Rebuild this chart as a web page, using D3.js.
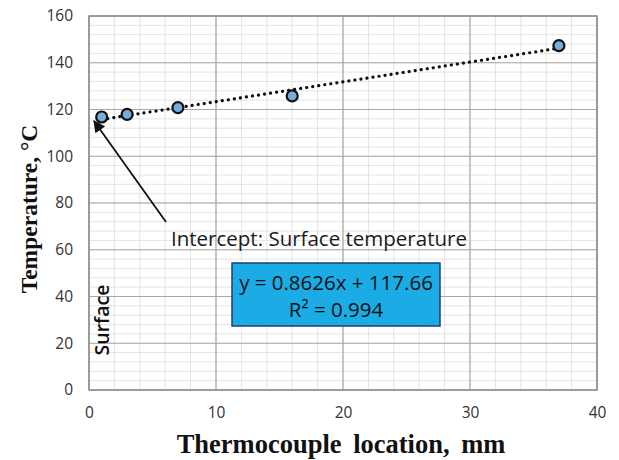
<!DOCTYPE html>
<html><head><meta charset="utf-8">
<script src="https://cdn.jsdelivr.net/npm/d3@7"></script>
<style>body{margin:0;background:#fff}svg{display:block}</style>
</head><body>
<svg id="c" width="619" height="460"></svg>
<script>
const xValues = [1, 3, 7, 16, 37];
const temperatures = [116.8, 117.9, 120.8, 125.8, 147.3];
const xTicks = [0, 10, 20, 30, 40];
const yTicks = [0, 20, 40, 60, 80, 100, 120, 140, 160];
const equationLines = ["y = 0.8626x + 117.66", "R² = 0.994"];
const annotation = "Intercept: Surface temperature";
const surfaceLabel = "Surface";
const xTitle = "Thermocouple location, mm";
const yTitle = "Temperature, °C";

const svg = d3.select("#c");
const L = 89, R = 597, T = 16, B = 390;
const x = d3.scaleLinear().domain([0, 40]).range([L, R]);
const y = d3.scaleLinear().domain([0, 160]).range([B, T]);

const g = svg.append("g");
// minor grid
g.selectAll(".mx").data(d3.range(0, 40.01, 2)).join("line")
  .attr("x1", d => x(d)).attr("x2", d => x(d)).attr("y1", T).attr("y2", B)
  .attr("stroke", "#e3e3e3").attr("stroke-width", 1);
g.selectAll(".my").data(d3.range(0, 160.01, 4)).join("line")
  .attr("y1", d => y(d)).attr("y2", d => y(d)).attr("x1", L).attr("x2", R)
  .attr("stroke", "#e3e3e3").attr("stroke-width", 1);
// major grid
g.selectAll(".Mx").data(xTicks).join("line")
  .attr("x1", d => x(d)).attr("x2", d => x(d)).attr("y1", T).attr("y2", B)
  .attr("stroke", "#a8a8a8").attr("stroke-width", 1.2);
g.selectAll(".My").data(yTicks).join("line")
  .attr("y1", d => y(d)).attr("y2", d => y(d)).attr("x1", L).attr("x2", R)
  .attr("stroke", "#a8a8a8").attr("stroke-width", 1.2);
g.append("rect").attr("x", L).attr("y", T).attr("width", R - L).attr("height", B - T)
  .attr("fill", "none").attr("stroke", "#8c8c8c").attr("stroke-width", 1.5);

// axes
const xa = svg.append("g").attr("transform", `translate(0,${B})`)
  .call(d3.axisBottom(x).tickValues(xTicks).tickSize(0).tickPadding(17));
const ya = svg.append("g").attr("transform", `translate(${L},0)`)
  .call(d3.axisLeft(y).tickValues(yTicks).tickSize(0).tickPadding(16));
[xa, ya].forEach(a => {
  a.select(".domain").remove();
  a.selectAll("text").attr("font-family", "Open Sans, sans-serif").attr("font-size", 15.5).attr("fill", "#333");
});

// trendline (least squares of plotted data)
const mx = d3.mean(xValues), my = d3.mean(temperatures);
const slope = d3.sum(xValues, (v, i) => (v - mx) * (temperatures[i] - my)) / d3.sum(xValues, v => (v - mx) ** 2);
const icpt = my - slope * mx;
const xr = d3.extent(xValues);
svg.append("line")
  .attr("x1", x(xr[0])).attr("y1", y(icpt + slope * xr[0]))
  .attr("x2", x(xr[1])).attr("y2", y(icpt + slope * xr[1]))
  .attr("stroke", "#111").attr("stroke-width", 3.2)
  .attr("stroke-dasharray", "0.1,6").attr("stroke-linecap", "round");

// points
svg.selectAll(".pt").data(xValues).join("circle")
  .attr("cx", d => x(d)).attr("cy", (d, i) => y(temperatures[i])).attr("r", 5.5)
  .attr("fill", "#78acdc").attr("stroke", "#111").attr("stroke-width", 2.2);

// arrow
svg.append("defs").append("marker").attr("id", "ah").attr("viewBox", "0 0 10 10")
  .attr("refX", 9).attr("refY", 5).attr("markerWidth", 14).attr("markerHeight", 12)
  .attr("orient", "auto").attr("markerUnits", "userSpaceOnUse")
  .append("path").attr("d", "M0,0L10,5L0,10z").attr("fill", "#111");
svg.append("line").attr("x1", 166).attr("y1", 222).attr("x2", 94).attr("y2", 121)
  .attr("stroke", "#111").attr("stroke-width", 1.8).attr("marker-end", "url(#ah)");

svg.append("text").attr("x", 171).attr("y", 246).text(annotation)
  .attr("font-family", "Open Sans, sans-serif").attr("font-size", 20.5)
  .attr("fill", "#1a1a1a");

// equation box
svg.append("rect").attr("x", 232).attr("y", 263).attr("width", 208).attr("height", 63)
  .attr("fill", "#1bace6").attr("stroke", "#1f3f6e").attr("stroke-width", 1.5);
svg.selectAll(".eq").data(equationLines).join("text")
  .attr("x", 336).attr("y", (d, i) => 290 + i * 27).attr("text-anchor", "middle")
  .attr("font-family", "Open Sans, sans-serif").attr("font-size", 20.5)
  .attr("fill", "#111")
  .text(d => d);

svg.append("text").attr("transform", "translate(109,320) rotate(-90)")
  .attr("text-anchor", "middle").attr("font-family", "Open Sans, sans-serif")
  .attr("font-size", 19.5).attr("font-weight", "600").attr("fill", "#111").text(surfaceLabel);

svg.append("text").attr("x", 341).attr("y", 453).attr("text-anchor", "middle")
  .attr("font-family", "Liberation Serif, serif").attr("font-weight", "bold")
  .attr("font-size", 26.5).attr("word-spacing", 5).attr("fill", "#111").text(xTitle);
svg.append("text").attr("transform", "translate(37,209) rotate(-90)")
  .attr("text-anchor", "middle").attr("font-family", "Liberation Serif, serif")
  .attr("font-weight", "bold").attr("font-size", 23.5).attr("fill", "#111").text(yTitle);
</script>
</body></html>
